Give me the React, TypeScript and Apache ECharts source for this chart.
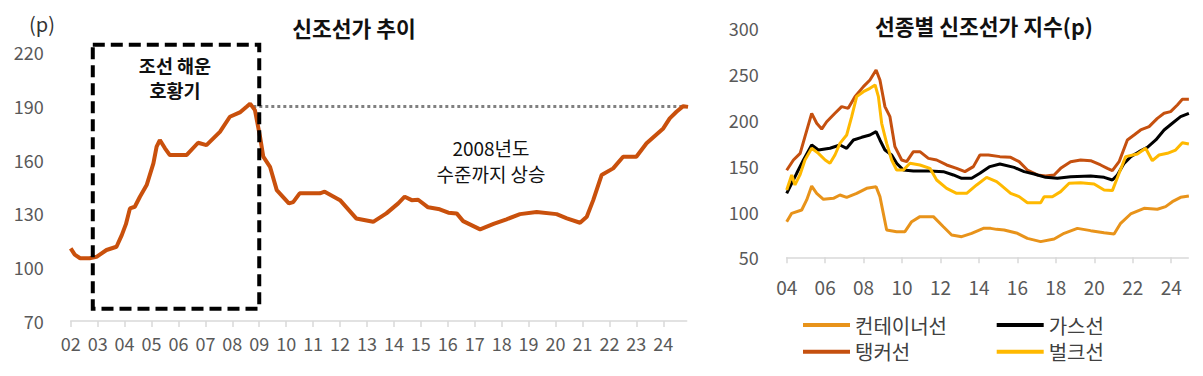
import React, { useEffect, useRef } from 'react';
import * as echarts from 'echarts';

const FONT = '"Noto Sans CJK KR", "Noto Sans", sans-serif';

// ---------- Left chart: 신조선가 추이 ----------
const leftTickYears = [2002, 2003, 2004, 2005, 2006, 2007, 2008, 2009, 2010, 2011, 2012, 2013, 2014, 2015, 2016, 2017, 2018, 2019, 2020, 2021, 2022, 2023, 2024];
const leftTickLabels = ['02', '03', '04', '05', '06', '07', '08', '09', '10', '11', '12', '13', '14', '15', '16', '17', '18', '19', '20', '21', '22', '23', '24'];
const newbuildIndex = [
  [2002.0, 110.5], [2002.15, 107], [2002.35, 105], [2002.7, 105], [2002.96, 105.8], [2003.33, 109.6], [2003.7, 111.4],
  [2003.9, 118], [2004.05, 124], [2004.2, 132.8], [2004.38, 133.7], [2004.57, 139.3], [2004.82, 145.8], [2005.07, 157.9],
  [2005.19, 167.2], [2005.31, 170.9], [2005.5, 166.3], [2005.68, 162.5], [2006.3, 162.5], [2006.73, 169.4], [2007.04, 168.1],
  [2007.54, 175.5], [2007.91, 183.9], [2008.28, 186.3], [2008.53, 189.5], [2008.66, 191.2], [2008.84, 187.6], [2009.03, 172.7],
  [2009.15, 161.6], [2009.4, 156], [2009.65, 143], [2010.1, 135.6], [2010.26, 136.3], [2010.5, 141.2], [2011.25, 141.2],
  [2011.43, 142.1], [2012.0, 137.4], [2012.6, 127.2], [2013.23, 125.3], [2013.72, 130], [2014.16, 135.6], [2014.4, 139.3],
  [2014.66, 137.4], [2014.9, 137.6], [2015.27, 133.4], [2015.7, 132.3], [2016.02, 130.4], [2016.33, 130], [2016.57, 125.7],
  [2017.2, 121.1], [2017.7, 124.1], [2018.18, 126.7], [2018.68, 129.6], [2019.3, 130.8], [2020.04, 129.6], [2020.42, 127.2],
  [2020.91, 124.8], [2021.16, 128.1], [2021.4, 137.4], [2021.71, 151.4], [2022.14, 155.1], [2022.51, 161.6], [2023.0, 161.6],
  [2023.38, 169.1], [2024.0, 177.4], [2024.24, 183], [2024.49, 186.7], [2024.74, 189.8], [2024.92, 189.4],
];
// annotation anchors (data coordinates)
const boomBoxYears = [2002.82, 2009.0];
const boomBoxValues = [76.9, 224.0];
const level2008 = 189.6;
const level2008Years = [2008.78, 2024.9];

// ---------- Right chart: 선종별 신조선가 지수 ----------
const rightTickYears = [2004, 2006, 2008, 2010, 2012, 2014, 2016, 2018, 2020, 2022, 2024];
const rightTickLabels = ['04', '06', '08', '10', '12', '14', '16', '18', '20', '22', '24'];
const containerShip = [
  [2004.0, 88.9], [2004.26, 98], [2004.78, 101.6], [2005.04, 112.6], [2005.3, 127.8], [2005.56, 119.8], [2005.91, 113.3],
  [2006.43, 114.4], [2006.77, 118], [2007.12, 115.5], [2007.64, 119.8], [2008.16, 125.3], [2008.65, 127.1], [2008.85, 116.2],
  [2009.2, 79.8], [2009.72, 78], [2010.15, 78], [2010.5, 88.9], [2010.93, 94.4], [2011.63, 94.4], [2012.15, 83.4],
  [2012.58, 74.4], [2013.1, 72.5], [2013.62, 76.2], [2014.23, 81.6], [2014.61, 81.6], [2014.92, 80.5], [2015.31, 79.8],
  [2016.0, 76.2], [2016.52, 70.7], [2017.21, 67.1], [2017.91, 70], [2018.43, 76.2], [2019.12, 81.6], [2019.81, 79.1],
  [2020.51, 76.9], [2021.03, 75.4], [2021.37, 87.1], [2021.89, 97.3], [2022.59, 103.5], [2023.28, 102.4], [2023.71, 105.3],
  [2024.06, 110.7], [2024.49, 115.5], [2024.92, 116.9],
];
const gasShip = [
  [2004.0, 119.8], [2004.26, 130.8], [2004.52, 141.7], [2004.87, 156.2], [2005.3, 172.6], [2005.65, 167.1], [2006.25, 169],
  [2006.77, 172.6], [2007.12, 169], [2007.47, 178.1], [2007.9, 181], [2008.33, 183.5], [2008.65, 187.2], [2008.85, 178.1],
  [2009.11, 167.1], [2009.46, 161.7], [2009.72, 152.6], [2010.07, 145.3], [2010.59, 144.2], [2011.45, 144.2], [2012.15, 143.5],
  [2012.67, 139.9], [2013.1, 136.2], [2013.62, 136.2], [2014.05, 141.7], [2014.57, 149], [2015.09, 151.9], [2015.83, 148.2],
  [2016.35, 143.5], [2016.87, 141], [2017.47, 137.3], [2018.08, 136.2], [2018.77, 138], [2019.81, 138.8], [2020.51, 137.3],
  [2020.94, 134.4], [2021.2, 139.9], [2021.55, 152.6], [2021.9, 159.9], [2022.33, 165.3], [2022.76, 170], [2023.2, 178.1],
  [2023.63, 189], [2024.06, 196.3], [2024.49, 203.5], [2024.92, 207.2],
];
const tankerShip = [
  [2004.0, 145], [2004.35, 156.2], [2004.7, 163.5], [2004.95, 181.7], [2005.3, 207.2], [2005.56, 196.3], [2005.82, 190],
  [2006.08, 198], [2006.51, 207.2], [2006.86, 214.5], [2007.2, 212.6], [2007.55, 225.4], [2007.99, 236.3], [2008.33, 243.6],
  [2008.65, 254.5], [2008.85, 243.6], [2009.11, 214.5], [2009.37, 203.5], [2009.63, 170.8], [2009.98, 156.2], [2010.24, 154.4],
  [2010.59, 165.3], [2010.93, 165.3], [2011.37, 158], [2011.8, 156.2], [2012.32, 150.8], [2012.84, 147.1], [2013.27, 143.5],
  [2013.71, 149], [2014.05, 161.7], [2014.49, 161.7], [2015.09, 159.9], [2015.65, 159.1], [2016.09, 154.4], [2016.52, 145.3],
  [2017.04, 139.9], [2017.47, 138.8], [2017.91, 139.9], [2018.25, 147.1], [2018.77, 154.4], [2019.29, 156.2], [2019.81, 155.5],
  [2020.33, 150.8], [2020.68, 147.1], [2020.94, 144.6], [2021.29, 154.4], [2021.72, 178.1], [2022.07, 183.5], [2022.41, 189],
  [2022.85, 192.6], [2023.28, 201.7], [2023.63, 207.2], [2023.97, 209], [2024.32, 216.3], [2024.58, 222.5], [2024.92, 222.5],
];
const bulkShip = [
  [2004.0, 123.5], [2004.26, 139.9], [2004.43, 129], [2004.69, 139.9], [2004.95, 156.2], [2005.3, 169], [2005.65, 163.5],
  [2006.0, 156.2], [2006.25, 152.6], [2006.51, 161.7], [2006.77, 174.4], [2007.12, 183.5], [2007.38, 203.5], [2007.64, 225.4],
  [2007.99, 230.8], [2008.33, 234.5], [2008.6, 238.1], [2008.77, 225.4], [2008.94, 196.3], [2009.2, 174.4], [2009.46, 156.2],
  [2009.72, 145.3], [2010.07, 145.3], [2010.41, 152.6], [2010.93, 150.8], [2011.45, 147.1], [2011.8, 134.4], [2012.32, 125.3],
  [2012.84, 119.8], [2013.36, 119.8], [2013.88, 129], [2014.4, 137.3], [2014.92, 132.6], [2015.13, 129], [2015.65, 119.8],
  [2016.09, 116.2], [2016.52, 109.6], [2017.21, 109.6], [2017.39, 116.2], [2017.82, 116.2], [2018.25, 121.7], [2018.69, 130.8],
  [2019.29, 131.5], [2019.99, 130.1], [2020.51, 123.5], [2020.94, 122.8], [2021.29, 141.7], [2021.63, 159.9], [2022.24, 162.8],
  [2022.67, 169], [2023.02, 155.5], [2023.37, 161.7], [2023.8, 163.5], [2024.23, 167.1], [2024.58, 175.1], [2024.92, 173.7],
];

const seriesNames = ['컨테이너선', '가스선', '탱커선', '벌크선'];
const seriesColors = ['#E8931A', '#000000', '#C5500F', '#FFB900'];

const axisLabelColor = '#595959';
const axisLineColor = '#d9d9d9';

function txt(text: string, x: number, y: number, size: number, weight: string, align: string, color = '#111') {
  return {
    type: 'text',
    x,
    y,
    silent: true,
    style: {
      text,
      fill: color,
      font: `${weight} ${size}px ${FONT}`,
      align,
      textAlign: align,
      verticalAlign: 'middle',
      textVerticalAlign: 'middle',
    },
  };
}

export default function App() {
  const ref = useRef<HTMLDivElement>(null);

  useEffect(() => {
    document.body.style.margin = '0';
    const el = ref.current;
    if (!el) return;
    const chart = echarts.init(el, null, { renderer: 'svg' });

    const leftXLabel = (v: number) => {
      const i = leftTickYears.indexOf(Math.round(v));
      return i >= 0 ? leftTickLabels[i] : '';
    };
    const rightXLabel = (v: number) => {
      const i = rightTickYears.indexOf(Math.round(v));
      return i >= 0 ? rightTickLabels[i] : '';
    };

    const rightData = [containerShip, gasShip, tankerShip, bulkShip];
    const legendText = { fontSize: 20, color: '#404040', lineHeight: 22, fontFamily: FONT };

    const option: any = {
      animation: false,
      textStyle: { fontFamily: FONT },
      grid: [
        { left: 70.7, top: 52, width: 616, height: 269 },
        { left: 786.7, top: 28.3, width: 401.6, height: 229 },
      ],
      xAxis: [
        {
          type: 'value', gridIndex: 0, min: 2002, max: 2024.87,
          axisLine: { show: true, lineStyle: { color: axisLineColor, width: 1.5 } },
          axisTick: { show: true, customValues: leftTickYears, length: 6, lineStyle: { color: axisLineColor, width: 1.5 } },
          axisLabel: { customValues: leftTickYears, formatter: leftXLabel, fontSize: 18, color: axisLabelColor, margin: 13, fontFamily: FONT },
          splitLine: { show: false },
        },
        {
          type: 'value', gridIndex: 1, min: 2004, max: 2024.89,
          axisLine: { show: true, lineStyle: { color: axisLineColor, width: 1.5 } },
          axisTick: { show: true, customValues: rightTickYears, length: 6, lineStyle: { color: axisLineColor, width: 1.5 } },
          axisLabel: { customValues: rightTickYears, formatter: rightXLabel, fontSize: 19, color: axisLabelColor, margin: 20, fontFamily: FONT },
          splitLine: { show: false },
        },
      ],
      yAxis: [
        {
          type: 'value', gridIndex: 0, min: 70, max: 220, interval: 30,
          axisLine: { show: false }, axisTick: { show: false }, splitLine: { show: false },
          axisLabel: { fontSize: 18, color: axisLabelColor, margin: 27, fontFamily: FONT },
        },
        {
          type: 'value', gridIndex: 1, min: 50, max: 300, interval: 50,
          axisLine: { show: false }, axisTick: { show: false }, splitLine: { show: false },
          axisLabel: { fontSize: 18, color: axisLabelColor, margin: 28, fontFamily: FONT },
        },
      ],
      legend: [
        {
          data: [seriesNames[0], seriesNames[2]], orient: 'vertical', left: 803, top: 314, padding: 0,
          itemWidth: 47, itemHeight: 4, icon: 'rect', itemGap: 4.7, textStyle: legendText,
        },
        {
          data: [seriesNames[1], seriesNames[3]], orient: 'vertical', left: 996.7, top: 314, padding: 0,
          itemWidth: 47, itemHeight: 4, icon: 'rect', itemGap: 4.7, textStyle: legendText,
        },
      ],
      series: [
        {
          name: '신조선가', type: 'line', xAxisIndex: 0, yAxisIndex: 0, data: newbuildIndex,
          symbol: 'none', lineStyle: { color: '#C9500C', width: 4 }, itemStyle: { color: '#C9500C' },
        },
        ...[0, 2, 1, 3].map((i) => ({
          name: seriesNames[i], type: 'line', xAxisIndex: 1, yAxisIndex: 1, data: rightData[i],
          symbol: 'none', lineStyle: { color: seriesColors[i], width: 3 }, itemStyle: { color: seriesColors[i] },
        })),
      ],
    };
    chart.setOption(option);

    const tl = chart.convertToPixel({ xAxisIndex: 0, yAxisIndex: 0 }, [boomBoxYears[0], boomBoxValues[1]]) as number[];
    const br = chart.convertToPixel({ xAxisIndex: 0, yAxisIndex: 0 }, [boomBoxYears[1], boomBoxValues[0]]) as number[];
    const l1 = chart.convertToPixel({ xAxisIndex: 0, yAxisIndex: 0 }, [level2008Years[0], level2008]) as number[];
    const l2 = chart.convertToPixel({ xAxisIndex: 0, yAxisIndex: 0 }, [level2008Years[1], level2008]) as number[];

    chart.setOption({
      graphic: [
        {
          type: 'line', silent: true,
          shape: { x1: l1[0], y1: l1[1], x2: l2[0], y2: l2[1] },
          style: { stroke: '#808080', lineWidth: 3, lineDash: [3, 3] },
          z: 1,
        },
        {
          type: 'rect', silent: true,
          shape: { x: tl[0], y: tl[1], width: br[0] - tl[0], height: br[1] - tl[1] },
          style: { fill: 'none', stroke: '#000', lineWidth: 4, lineDash: [12, 6] },
          z: 10,
        },
        txt('신조선가 추이', 354, 27, 21.5, 'bold', 'center'),
        txt('선종별 신조선가 지수(p)', 984, 25, 21.5, 'bold', 'center'),
        txt('(p)', 42, 23, 20, 'normal', 'center', '#333'),
        txt('조선 해운', 175, 65, 18.5, 'bold', 'center'),
        txt('호황기', 175, 90, 18.5, 'bold', 'center'),
        txt('2008년도', 491, 147, 19, 'normal', 'center'),
        txt('수준까지 상승', 491, 173, 19, 'normal', 'center'),
      ],
    });

    return () => chart.dispose();
  }, []);

  return <div ref={ref} style={{ width: 1203, height: 376 }} />;
}
